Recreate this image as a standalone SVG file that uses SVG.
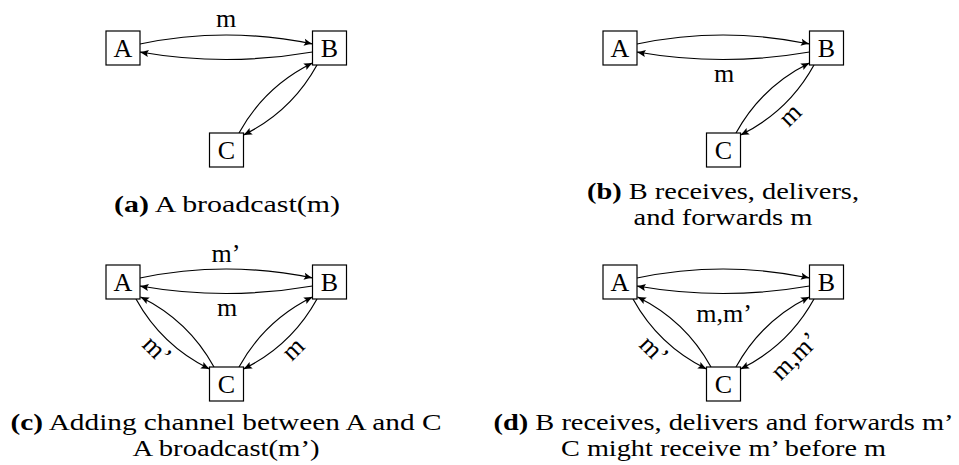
<svg xmlns="http://www.w3.org/2000/svg" width="959" height="465" viewBox="0 0 959 465">
<style>
.box{fill:#fff;stroke:#000;stroke-width:1.2}
.t{font-family:"Liberation Serif","DejaVu Serif","Noto Serif","Times New Roman",serif;font-size:26px;fill:#000;text-anchor:middle}
.cap{font-size:23px}
.edge{fill:none;stroke:#000;stroke-width:1.2;marker-end:url(#ah)}
.b{font-weight:bold}
</style>
<defs>
<marker id="ah" viewBox="-10 -5 11 10" refX="0" refY="0" markerWidth="11" markerHeight="10" markerUnits="userSpaceOnUse" orient="auto">
<path d="M0.5,0 Q-4,-1.3 -8.5,-3.6 L-7,0 L-8.5,3.6 Q-4,1.3 0.5,0Z" fill="#000"/>
</marker>
</defs>
<rect width="959" height="465" fill="#fff"/>

<!-- panel a -->
<g id="panel-a">
<g id="a-edges" class="edges">
<path class="edge" d="M140,44 Q226,26 312.5,44"/>
<path class="edge" d="M312.5,52 Q226,67 140,52"/>
<path class="edge" d="M239,133 Q264.7,86.4 312.5,63"/>
<path class="edge" d="M317,65 Q291.3,111.6 243.5,135"/>
</g>
<g id="a-node-A"><rect class="box" x="106" y="31" width="34" height="34"/><text class="t" x="123" y="56.6">A</text></g>
<g id="a-node-B"><rect class="box" x="312.5" y="31" width="34" height="34"/><text class="t" x="329.5" y="56.6">B</text></g>
<g id="a-node-C"><rect class="box" x="209.5" y="133" width="34" height="34"/><text class="t" x="226.5" y="158.6">C</text></g>
<text class="t" x="226" y="27">m</text>
<text class="t cap" x="227" y="212" textLength="226" lengthAdjust="spacingAndGlyphs"><tspan class="b">(a)</tspan> A broadcast(m)</text>
</g>

<!-- panel b -->
<g id="panel-b" transform="translate(497,0)">
<g id="b-edges" class="edges">
<path class="edge" d="M140,44 Q226,26 312.5,44"/>
<path class="edge" d="M312.5,52 Q226,67 140,52"/>
<path class="edge" d="M239,133 Q264.7,86.4 312.5,63"/>
<path class="edge" d="M317,65 Q291.3,111.6 243.5,135"/>
</g>
<g id="b-node-A"><rect class="box" x="106" y="31" width="34" height="34"/><text class="t" x="123" y="56.6">A</text></g>
<g id="b-node-B"><rect class="box" x="312.5" y="31" width="34" height="34"/><text class="t" x="329.5" y="56.6">B</text></g>
<g id="b-node-C"><rect class="box" x="209.5" y="133" width="34" height="34"/><text class="t" x="226.5" y="158.6">C</text></g>
<text class="t" x="227" y="82">m</text>
<text class="t" transform="translate(295,117) rotate(-45)" x="0" y="5.5">m</text>
<text class="t cap" x="226" y="199" textLength="272" lengthAdjust="spacingAndGlyphs"><tspan class="b">(b)</tspan> B receives, delivers,</text>
<text class="t cap" x="226" y="225" textLength="179" lengthAdjust="spacingAndGlyphs">and forwards m</text>
</g>

<!-- panel c -->
<g id="panel-c" transform="translate(0,234)">
<g id="c-edges" class="edges">
<path class="edge" d="M140,44 Q226,26 312.5,44"/>
<path class="edge" d="M312.5,52 Q226,67 140,52"/>
<path class="edge" d="M239,133 Q264.7,86.4 312.5,63"/>
<path class="edge" d="M317,65 Q291.3,111.6 243.5,135"/>
<path class="edge" d="M214,133 Q188.3,86.4 140.5,63"/>
<path class="edge" d="M136,65 Q161.7,111.6 209.5,135"/>
</g>
<g id="c-node-A"><rect class="box" x="106" y="31" width="34" height="34"/><text class="t" x="123" y="56.6">A</text></g>
<g id="c-node-B"><rect class="box" x="312.5" y="31" width="34" height="34"/><text class="t" x="329.5" y="56.6">B</text></g>
<g id="c-node-C"><rect class="box" x="209.5" y="133" width="34" height="34"/><text class="t" x="226.5" y="158.6">C</text></g>
<text class="t" x="226" y="28">m’</text>
<text class="t" x="227" y="82">m</text>
<text class="t" transform="translate(155,118) rotate(45)" x="0" y="5.5">m’</text>
<text class="t" transform="translate(295,117) rotate(-45)" x="0" y="5.5">m</text>
<text class="t cap" x="226" y="196" textLength="431" lengthAdjust="spacingAndGlyphs"><tspan class="b">(c)</tspan> Adding channel between A and C</text>
<text class="t cap" x="226" y="222" textLength="187" lengthAdjust="spacingAndGlyphs">A broadcast(m’)</text>
</g>

<!-- panel d -->
<g id="panel-d" transform="translate(497,234)">
<g id="d-edges" class="edges">
<path class="edge" d="M140,44 Q226,26 312.5,44"/>
<path class="edge" d="M312.5,52 Q226,67 140,52"/>
<path class="edge" d="M239,133 Q264.7,86.4 312.5,63"/>
<path class="edge" d="M317,65 Q291.3,111.6 243.5,135"/>
<path class="edge" d="M214,133 Q188.3,86.4 140.5,63"/>
<path class="edge" d="M136,65 Q161.7,111.6 209.5,135"/>
</g>
<g id="d-node-A"><rect class="box" x="106" y="31" width="34" height="34"/><text class="t" x="123" y="56.6">A</text></g>
<g id="d-node-B"><rect class="box" x="312.5" y="31" width="34" height="34"/><text class="t" x="329.5" y="56.6">B</text></g>
<g id="d-node-C"><rect class="box" x="209.5" y="133" width="34" height="34"/><text class="t" x="226.5" y="158.6">C</text></g>
<text class="t" x="227" y="88">m,m’</text>
<text class="t" transform="translate(155,118) rotate(45)" x="0" y="5.5">m’</text>
<text class="t" transform="translate(299.5,124) rotate(-45)" x="0" y="5.5">m,m’</text>
<text class="t cap" x="226.5" y="196" textLength="460" lengthAdjust="spacingAndGlyphs"><tspan class="b">(d)</tspan> B receives, delivers and forwards m’</text>
<text class="t cap" x="226.5" y="222" textLength="325" lengthAdjust="spacingAndGlyphs">C might receive m’ before m</text>
</g>
</svg>
